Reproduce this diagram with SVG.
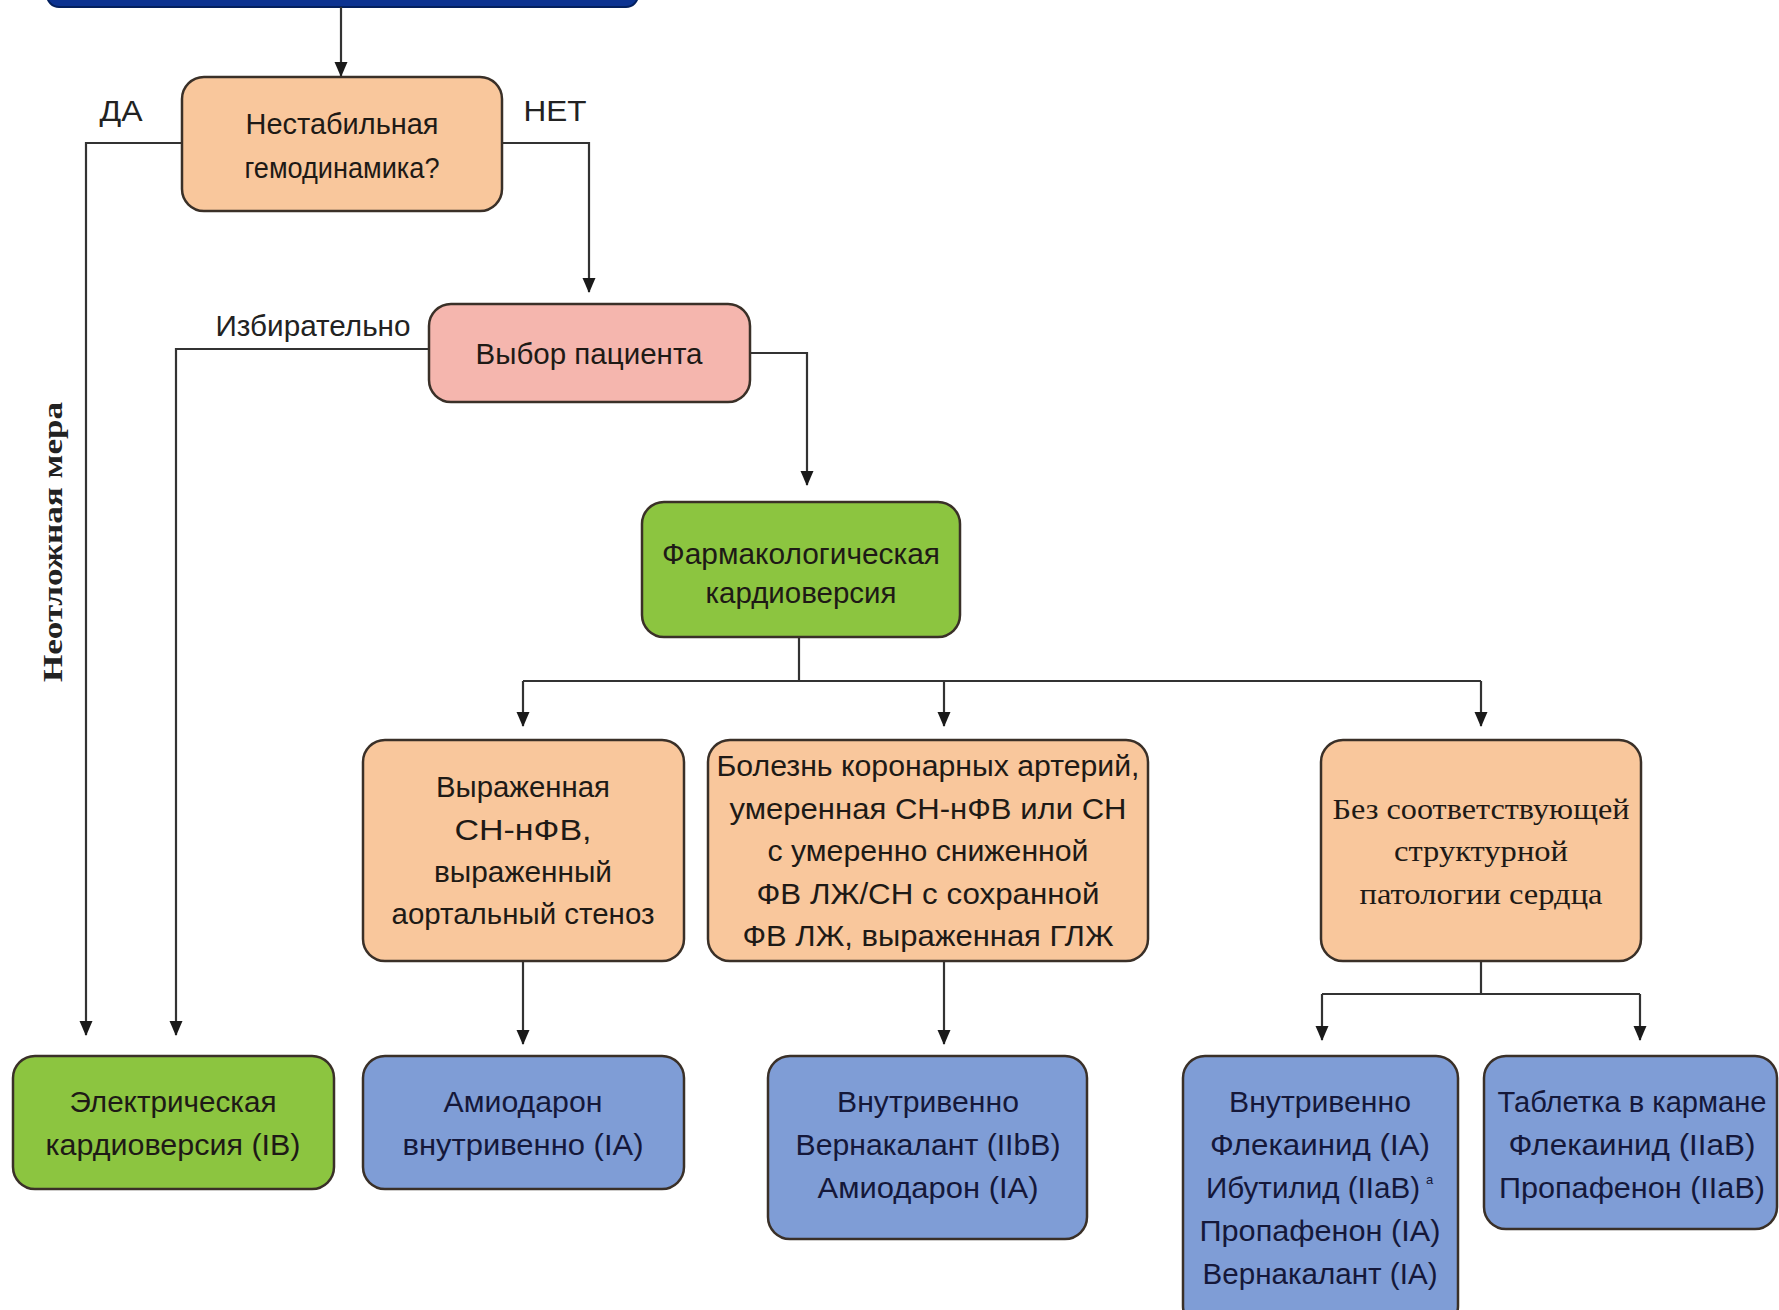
<svg xmlns="http://www.w3.org/2000/svg" width="1779" height="1310" viewBox="0 0 1779 1310">
<defs>
<style>
.box{stroke:#3a3028;stroke-width:2.5}
.peach{fill:#f9c79c}
.pink{fill:#f5b6ae}
.green{fill:#8cc540}
.blue{fill:#7f9dd6}
.t{font-family:"Liberation Sans",Arial,sans-serif;font-size:30px;fill:#1e1a16;text-anchor:middle}
.ts{font-family:"Liberation Serif","Times New Roman",serif;font-size:30px;fill:#1e1a16;text-anchor:middle}
.lbl{font-family:"Liberation Sans",Arial,sans-serif;font-size:30px;fill:#222;text-anchor:middle}
.sup{font-family:"Liberation Sans",Arial,sans-serif;font-size:13px;fill:#15183a;text-anchor:start}
.bt{fill:#15183a}
.conn{fill:none;stroke:#333;stroke-width:2.2}
</style>
<marker id="arr" markerUnits="userSpaceOnUse" markerWidth="16" markerHeight="16" refX="14" refY="8" orient="auto" viewBox="0 0 16 16">
<path d="M0,1.5 L15,8 L0,14.5 Z" fill="#1a1a1a"/>
</marker>
</defs>

<g id="top-bar">
<rect x="47" y="-30" width="591" height="37" rx="12" fill="#0c3391" stroke="#03205e" stroke-width="2"/>
</g>

<g id="connectors">
<path class="conn" d="M341,7 V76" marker-end="url(#arr)"/>
<path class="conn" d="M182,143 H86 V1035" marker-end="url(#arr)"/>
<path class="conn" d="M502,143 H589 V292" marker-end="url(#arr)"/>
<path class="conn" d="M429,349 H176 V1035" marker-end="url(#arr)"/>
<path class="conn" d="M750,353 H807 V485" marker-end="url(#arr)"/>
<path class="conn" d="M799,637 V681 M523,681 H1481"/>
<path class="conn" d="M523,681 V726" marker-end="url(#arr)"/>
<path class="conn" d="M944,681 V726" marker-end="url(#arr)"/>
<path class="conn" d="M1481,681 V726" marker-end="url(#arr)"/>
<path class="conn" d="M523,961 V1044" marker-end="url(#arr)"/>
<path class="conn" d="M944,961 V1044" marker-end="url(#arr)"/>
<path class="conn" d="M1481,961 V994 M1322,994 H1640"/>
<path class="conn" d="M1322,994 V1040" marker-end="url(#arr)"/>
<path class="conn" d="M1640,994 V1040" marker-end="url(#arr)"/>
</g>

<g id="labels">
<text class="lbl" x="121" y="121" textLength="43" lengthAdjust="spacingAndGlyphs">ДА</text>
<text class="lbl" x="555" y="121" textLength="63" lengthAdjust="spacingAndGlyphs">НЕТ</text>
<text class="lbl" x="313" y="336" textLength="195" lengthAdjust="spacingAndGlyphs">Избирательно</text>
<text transform="translate(62 542) rotate(-90)" x="0" y="0" font-family="'Liberation Serif','Times New Roman',serif" font-weight="bold" font-size="27" fill="#222" text-anchor="middle" textLength="280" lengthAdjust="spacingAndGlyphs">Неотложная мера</text>
</g>

<g id="node-unstable">
<rect class="box peach" x="182" y="77" width="320" height="134" rx="22"/>
<text class="t" x="342" y="134" textLength="193" lengthAdjust="spacingAndGlyphs">Нестабильная</text>
<text class="t" x="342" y="178" textLength="195" lengthAdjust="spacingAndGlyphs">гемодинамика?</text>
</g>

<g id="node-patient">
<rect class="box pink" x="429" y="304" width="321" height="98" rx="22"/>
<text class="t" x="589" y="364" textLength="227" lengthAdjust="spacingAndGlyphs">Выбор пациента</text>
</g>

<g id="node-pharm">
<rect class="box green" x="642" y="502" width="318" height="135" rx="22"/>
<text class="t" x="801" y="564" textLength="278" lengthAdjust="spacingAndGlyphs">Фармакологическая</text>
<text class="t" x="801" y="603" textLength="191" lengthAdjust="spacingAndGlyphs">кардиоверсия</text>
</g>

<g id="node-hfref">
<rect class="box peach" x="363" y="740" width="321" height="221" rx="22"/>
<text class="t" x="523" y="797" textLength="174" lengthAdjust="spacingAndGlyphs">Выраженная</text>
<text class="t" x="523" y="840" textLength="137" lengthAdjust="spacingAndGlyphs">СН-нФВ,</text>
<text class="t" x="523" y="882" textLength="178" lengthAdjust="spacingAndGlyphs">выраженный</text>
<text class="t" x="523" y="924" textLength="263" lengthAdjust="spacingAndGlyphs">аортальный стеноз</text>
</g>

<g id="node-cad">
<rect class="box peach" x="708" y="740" width="440" height="221" rx="22"/>
<text class="t" x="928" y="776" textLength="423" lengthAdjust="spacingAndGlyphs">Болезнь коронарных артерий,</text>
<text class="t" x="928" y="819" textLength="397" lengthAdjust="spacingAndGlyphs">умеренная СН-нФВ или СН</text>
<text class="t" x="928" y="861" textLength="321" lengthAdjust="spacingAndGlyphs">с умеренно сниженной</text>
<text class="t" x="928" y="904" textLength="343" lengthAdjust="spacingAndGlyphs">ФВ ЛЖ/СН с сохранной</text>
<text class="t" x="928" y="946" textLength="371" lengthAdjust="spacingAndGlyphs">ФВ ЛЖ, выраженная ГЛЖ</text>
</g>

<g id="node-nostruct">
<rect class="box peach" x="1321" y="740" width="320" height="221" rx="22"/>
<text class="ts" x="1481" y="819" textLength="297" lengthAdjust="spacingAndGlyphs">Без соответствующей</text>
<text class="ts" x="1481" y="861" textLength="174" lengthAdjust="spacingAndGlyphs">структурной</text>
<text class="ts" x="1481" y="904" textLength="243" lengthAdjust="spacingAndGlyphs">патологии сердца</text>
</g>

<g id="node-electric">
<rect class="box green" x="13" y="1056" width="321" height="133" rx="22"/>
<text class="t" x="173" y="1112" textLength="207" lengthAdjust="spacingAndGlyphs">Электрическая</text>
<text class="t" x="173" y="1155" textLength="255" lengthAdjust="spacingAndGlyphs">кардиоверсия (IB)</text>
</g>

<g id="node-amiodarone">
<rect class="box blue" x="363" y="1056" width="321" height="133" rx="22"/>
<text class="t bt" x="523" y="1112" textLength="159" lengthAdjust="spacingAndGlyphs">Амиодарон</text>
<text class="t bt" x="523" y="1155" textLength="241" lengthAdjust="spacingAndGlyphs">внутривенно (IA)</text>
</g>

<g id="node-iv-vernakalant">
<rect class="box blue" x="768" y="1056" width="319" height="183" rx="22"/>
<text class="t bt" x="928" y="1112" textLength="182" lengthAdjust="spacingAndGlyphs">Внутривенно</text>
<text class="t bt" x="928" y="1155" textLength="265" lengthAdjust="spacingAndGlyphs">Вернакалант (IIbB)</text>
<text class="t bt" x="928" y="1198" textLength="221" lengthAdjust="spacingAndGlyphs">Амиодарон (IA)</text>
</g>

<g id="node-iv-flecainide">
<rect class="box blue" x="1183" y="1056" width="275" height="272" rx="22"/>
<text class="t bt" x="1320" y="1112" textLength="182" lengthAdjust="spacingAndGlyphs">Внутривенно</text>
<text class="t bt" x="1320" y="1155" textLength="220" lengthAdjust="spacingAndGlyphs">Флекаинид (IA)</text>
<text class="t bt" x="1313" y="1198" textLength="214" lengthAdjust="spacingAndGlyphs">Ибутилид (IIaB)</text>
<text class="sup" x="1426" y="1184">а</text>
<text class="t bt" x="1320" y="1241" textLength="241" lengthAdjust="spacingAndGlyphs">Пропафенон (IA)</text>
<text class="t bt" x="1320" y="1284" textLength="235" lengthAdjust="spacingAndGlyphs">Вернакалант (IA)</text>
</g>

<g id="node-pill">
<rect class="box blue" x="1484" y="1056" width="293" height="173" rx="22"/>
<text class="t bt" x="1632" y="1112" textLength="269" lengthAdjust="spacingAndGlyphs">Таблетка в кармане</text>
<text class="t bt" x="1632" y="1155" textLength="247" lengthAdjust="spacingAndGlyphs">Флекаинид (IIaB)</text>
<text class="t bt" x="1632" y="1198" textLength="266" lengthAdjust="spacingAndGlyphs">Пропафенон (IIaB)</text>
</g>
</svg>
